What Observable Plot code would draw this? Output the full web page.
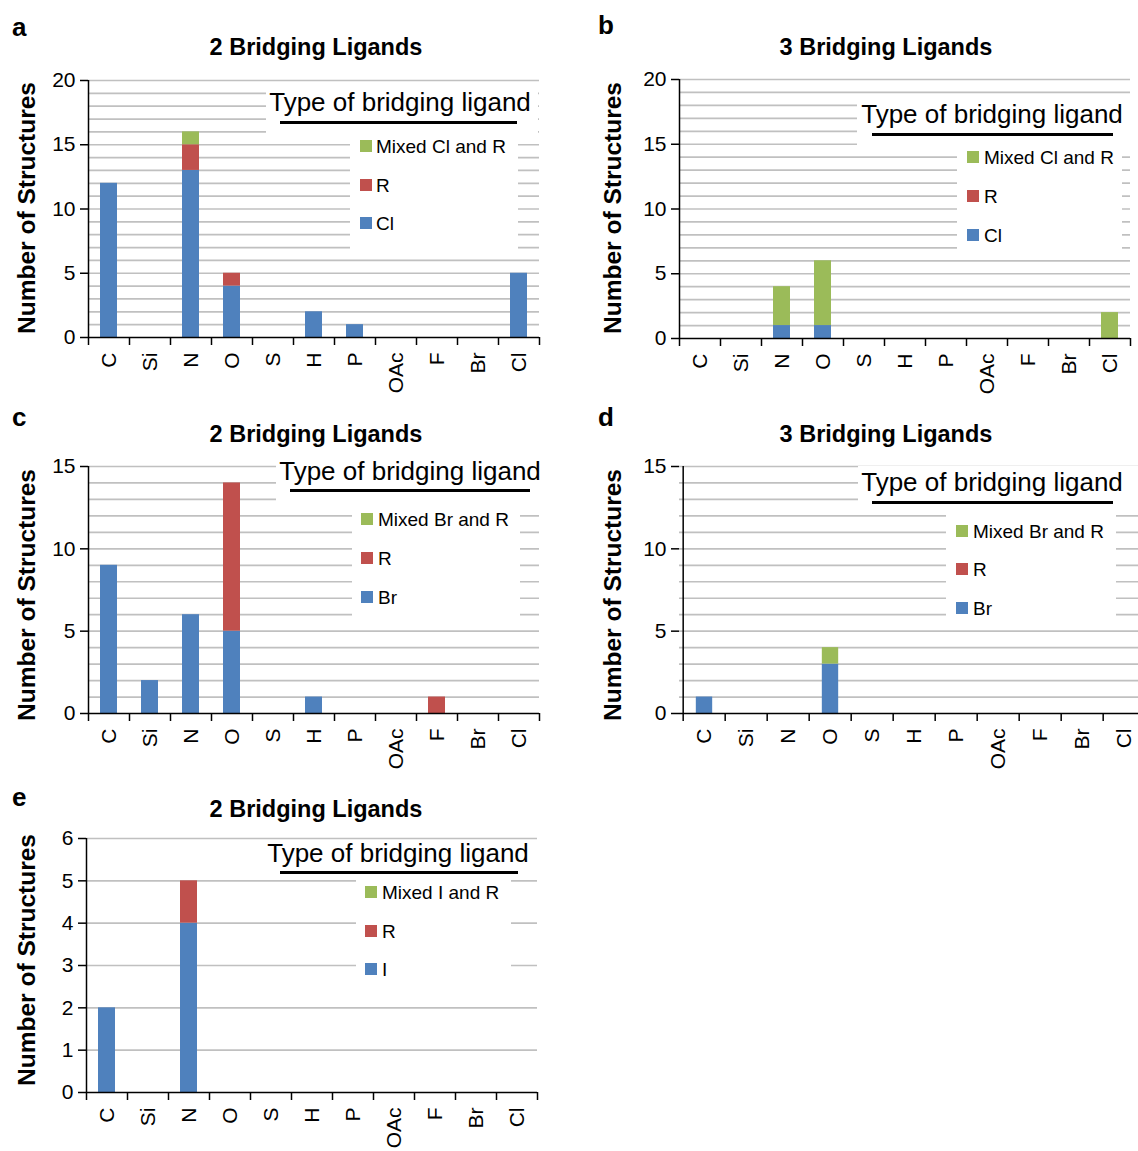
<!DOCTYPE html>
<html>
<head>
<meta charset="utf-8">
<script src="https://cdn.jsdelivr.net/npm/d3@7"></script>
<script src="https://cdn.jsdelivr.net/npm/@observablehq/plot@0.6"></script>
<style>
  html, body { margin: 0; padding: 0; background: #fff; }
  body { width: 1138px; height: 1151px; overflow: hidden; position: relative; font-family: "Liberation Sans", Arial, Helvetica, sans-serif; }
  #root { position: absolute; left: 0; top: 0; width: 1138px; height: 1151px; }
  .abs { position: absolute; white-space: nowrap; line-height: 1; }
  .letter { font-weight: bold; font-size: 26px; }
  .title { font-weight: bold; font-size: 23.5px; transform: translate(-50%, -50%); }
  .ylab { font-weight: bold; font-size: 24.5px; transform: translate(-50%, -50%) rotate(-90deg); }
  .box { background: #fff; }
  .ltitle { font-size: 26px; transform: translate(-50%, -50%); }
  .ltext { font-size: 19px; transform: translateY(-50%); }
  .sw { width: 12px; height: 12px; transform: translateY(-50%); }
  .uline { height: 2.5px; background: #000; }
</style>
</head>
<body>
<div id="root"></div>
<script>
// ---------- data ----------
const categories = ["C", "Si", "N", "O", "S", "H", "P", "OAc", "F", "Br", "Cl"];
const seriesKeys = ["halide", "R", "mixed"];
const seriesColors = ["#4f81bd", "#c0504d", "#9bbb59"];

// panel a: 2 bridging ligands, Cl
const aHalide = [12, 0, 13, 4, 0, 2, 1, 0, 0, 0, 5];
const aR      = [0, 0, 2, 1, 0, 0, 0, 0, 0, 0, 0];
const aMixed  = [0, 0, 1, 0, 0, 0, 0, 0, 0, 0, 0];
// panel b: 3 bridging ligands, Cl
const bHalide = [0, 0, 1, 1, 0, 0, 0, 0, 0, 0, 0];
const bR      = [0, 0, 0, 0, 0, 0, 0, 0, 0, 0, 0];
const bMixed  = [0, 0, 3, 5, 0, 0, 0, 0, 0, 0, 2];
// panel c: 2 bridging ligands, Br
const cHalide = [9, 2, 6, 5, 0, 1, 0, 0, 0, 0, 0];
const cR      = [0, 0, 0, 9, 0, 0, 0, 0, 1, 0, 0];
const cMixed  = [0, 0, 0, 0, 0, 0, 0, 0, 0, 0, 0];
// panel d: 3 bridging ligands, Br
const dHalide = [1, 0, 0, 3, 0, 0, 0, 0, 0, 0, 0];
const dR      = [0, 0, 0, 0, 0, 0, 0, 0, 0, 0, 0];
const dMixed  = [0, 0, 0, 1, 0, 0, 0, 0, 0, 0, 0];
// panel e: 2 bridging ligands, I
const eHalide = [2, 0, 4, 0, 0, 0, 0, 0, 0, 0, 0];
const eR      = [0, 0, 1, 0, 0, 0, 0, 0, 0, 0, 0];
const eMixed  = [0, 0, 0, 0, 0, 0, 0, 0, 0, 0, 0];

const panelTitles = ["2 Bridging Ligands", "3 Bridging Ligands", "2 Bridging Ligands", "3 Bridging Ligands", "2 Bridging Ligands"];
const panelLetters = ["a", "b", "c", "d", "e"];
const legendTitle = "Type of bridging ligand";
const legendLabels = [
  ["Mixed Cl and R", "R", "Cl"],
  ["Mixed Cl and R", "R", "Cl"],
  ["Mixed Br and R", "R", "Br"],
  ["Mixed Br and R", "R", "Br"],
  ["Mixed I and R", "R", "I"]
];
const yMaxes = [20, 20, 15, 15, 6];
const yTickSets = [[0, 5, 10, 15, 20], [0, 5, 10, 15, 20], [0, 5, 10, 15], [0, 5, 10, 15], [0, 1, 2, 3, 4, 5, 6]];
const yLabel = "Number of Structures";

// ---------- layout ----------
const layouts = [
  { series: [aHalide, aR, aMixed], left: 0, top: 60, width: 560, height: 340, ml: 88, mr: 21, mt: 20, mb: 63,
    letter: [12, 27], titleC: [316, 48], ylab: [27, 208],
    tBox: [266, 84, 272, 54], tC: [400, 102], ul: [280, 517, 122], eBox: [350, 138, 168, 112], swX: 360, txX: 376, ys: [146, 185, 223] },
  { series: [bHalide, bR, bMixed], left: 590, top: 60, width: 548, height: 340, ml: 89, mr: 8, mt: 19, mb: 62,
    letter: [598, 25], titleC: [886, 48], ylab: [613, 208],
    tBox: [857, 98, 273, 50], tC: [992, 114], ul: [872, 1113, 134], eBox: [957, 148, 165, 104], swX: 967, txX: 984, ys: [157, 196, 235] },
  { series: [cHalide, cR, cMixed], left: 0, top: 446, width: 560, height: 340, ml: 88, mr: 21, mt: 20, mb: 73,
    letter: [12, 417], titleC: [316, 435], ylab: [27, 595],
    tBox: [276, 456, 264, 49], tC: [410, 471], ul: [290, 530, 490], eBox: [352, 505, 168, 112], swX: 361, txX: 378, ys: [519, 558, 597] },
  { series: [dHalide, dR, dMixed], left: 590, top: 446, width: 570, height: 340, ml: 89, mr: 12, mt: 20, mb: 73,
    letter: [598, 417], titleC: [886, 435], ylab: [613, 595],
    tBox: [858, 466, 280, 49], tC: [992, 482], ul: [872, 1113, 502], eBox: [946, 515, 170, 107], swX: 956, txX: 973, ys: [531, 569, 608] },
  { series: [eHalide, eR, eMixed], left: 0, top: 818, width: 560, height: 333, ml: 86, mr: 23, mt: 20, mb: 59,
    letter: [12, 797], titleC: [316, 810], ylab: [27, 960],
    tBox: [264, 840, 274, 40], tC: [398, 853], ul: [280, 518, 872], eBox: [356, 880, 155, 110], swX: 365, txX: 382, ys: [892, 931, 969] }
];

const root = document.getElementById("root");
const FONT = '"Liberation Sans", Arial, Helvetica, sans-serif';

function addDiv(cls, x, y, text, extra) {
  const d = document.createElement("div");
  d.className = "abs " + cls;
  d.style.left = x + "px";
  d.style.top = y + "px";
  if (text != null) d.textContent = text;
  if (extra) Object.assign(d.style, extra);
  root.appendChild(d);
  return d;
}

layouts.forEach((L, p) => {
  const rows = [];
  seriesKeys.forEach((s, si) => {
    L.series[si].forEach((v, i) => rows.push({ cat: categories[i], series: s, value: v }));
  });
  const ymax = yMaxes[p];
  const bw = (L.width - L.ml - L.mr) / categories.length;
  const ih = L.height - L.mt - L.mb;
  const barInset = (bw - 17) / 2;

  const chart = Plot.plot({
    width: L.width,
    height: L.height,
    marginLeft: L.ml,
    marginRight: L.mr,
    marginTop: L.mt,
    marginBottom: L.mb,
    style: { fontFamily: FONT, background: "transparent", color: "#000", overflow: "visible" },
    x: { domain: categories, padding: 0, axis: null },
    y: { domain: [0, ymax], axis: null },
    color: { domain: seriesKeys, range: seriesColors },
    marks: [
      Plot.ruleY(d3.range(1, ymax + 1), { stroke: "#c0c0c0", strokeWidth: 1.7 }),
      Plot.barY(rows.filter(d => d.value > 0), {
        x: "cat", y: "value", fill: "series", insetLeft: barInset, insetRight: barInset
      }),
      Plot.ruleY([0], { stroke: "#000", strokeWidth: 1.5 }),
      Plot.ruleX([categories[0]], { x: d => d, dx: -bw / 2, stroke: "#000", strokeWidth: 1.5 }),
      Plot.ruleX(categories, { x: d => d, dx: -bw / 2, insetTop: ih, insetBottom: -8, stroke: "#000", strokeWidth: 1.5 }),
      Plot.ruleX([categories[categories.length - 1]], { x: d => d, dx: bw / 2, insetTop: ih, insetBottom: -8, stroke: "#000", strokeWidth: 1.5 }),
      Plot.axisY({ ticks: yTickSets[p], tickSize: 8, tickPadding: 5, fontSize: 21, tickFormat: d => String(d), strokeWidth: 1.5, label: null }),
      Plot.axisX({ tickSize: 0, tickRotate: -90, tickPadding: 15, fontSize: 21, label: null })
    ]
  });
  chart.style.position = "absolute";
  chart.style.left = L.left + "px";
  chart.style.top = L.top + "px";
  root.appendChild(chart);

  // panel letter, title, y label
  addDiv("letter", L.letter[0], L.letter[1], panelLetters[p], { transform: "translateY(-50%)" });
  addDiv("title", L.titleC[0], L.titleC[1], panelTitles[p]);
  addDiv("ylab", L.ylab[0], L.ylab[1], yLabel);

  // legend
  addDiv("box", L.tBox[0], L.tBox[1], null, { width: L.tBox[2] + "px", height: L.tBox[3] + "px" });
  addDiv("box", L.eBox[0], L.eBox[1], null, { width: L.eBox[2] + "px", height: L.eBox[3] + "px" });
  addDiv("ltitle", L.tC[0], L.tC[1], legendTitle);
  addDiv("uline", L.ul[0], L.ul[2] - 1, null, { width: (L.ul[1] - L.ul[0]) + "px" });
  const order = [2, 1, 0]; // mixed, R, halide from top
  order.forEach((si, k) => {
    addDiv("sw", L.swX, L.ys[k], null, { background: seriesColors[si] });
    addDiv("ltext", L.txX, L.ys[k], legendLabels[p][k]);
  });
});
</script>
</body>
</html>
